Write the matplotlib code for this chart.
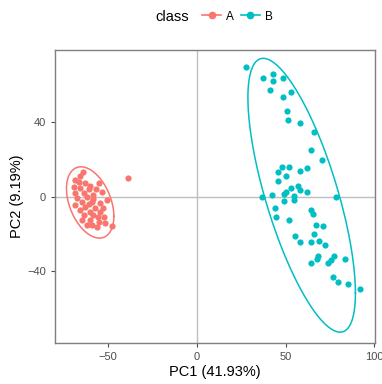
import numpy as np
import matplotlib
matplotlib.use("Agg")
import matplotlib.pyplot as plt
from matplotlib.lines import Line2D

plt.rcParams["font.family"] = ["Liberation Sans", "DejaVu Sans"]

# PCA scores
a_pc1 = [-64.2, -68.9, -66.7, -62.9, -55.4, -69.5, -65.7, -61.1, -53.5, -68.5,
         -63.9, -58.3, -67.6, -62.0, -50.7, -64.8, -59.2, -54.5, -68.5, -62.9,
         -57.3, -65.7, -60.1, -54.5, -63.9, -58.3, -52.6, -64.8, -60.1, -55.4,
         -47.9, -51.7, -62.0, -56.4, -38.6, -66.0, -60.0, -57.0, -61.0, -56.0,
         -59.0, -53.0, -58.5]
a_pc2 = [13.6, 9.1, 8.2, 7.4, 7.4, 5.5, 4.7, 4.1, 2.8, 2.0,
         2.0, 1.1, -0.7, 0.2, -1.6, -2.5, -2.5, -3.4, -4.3, -5.2,
         -6.1, -7.0, -7.9, -7.9, -9.7, -9.7, -10.6, -12.4, -12.4, -13.3,
         -15.6, -14.1, -15.1, -16.0, 10.1, 11.0, 6.0, 4.0, -4.0, -11.0,
         -15.0, -6.0, -1.0]

b_pc1 = [27.5, 37.5, 42.9, 42.9, 48.5, 41.2, 48.5, 53.2, 50.6, 51.3,
         58.0, 65.9, 64.2, 70.4, 47.8, 45.5, 51.9, 57.9, 62.0, 50.0,
         45.9, 56.9, 53.0, 58.3, 62.0, 50.4, 49.3, 42.1, 36.5, 54.7,
         54.9, 49.3, 78.5, 44.0, 64.6, 65.3, 44.4, 51.9, 67.2, 71.3,
         55.6, 65.9, 58.4, 64.2, 68.9, 72.5, 68.5, 67.6, 64.6, 77.4,
         75.8, 74.2, 83.5, 77.0, 79.4, 85.2, 92.1]
b_pc2 = [69.9, 64.1, 66.1, 62.5, 64.0, 57.2, 53.6, 56.3, 46.2, 41.4,
         39.6, 34.8, 25.1, 19.9, 16.0, 13.6, 16.0, 14.0, 15.6, 11.3,
         8.8, 6.1, 4.7, 3.8, 2.8, 2.8, 1.6, 1.2, 0.2, 0.5,
         -1.6, -2.0, 0.2, -5.8, -7.0, -9.1, -10.9, -12.4, -15.2, -15.4,
         -21.0, -19.9, -24.2, -24.4, -23.8, -25.8, -31.7, -33.5, -35.6, -31.6,
         -33.9, -35.3, -33.2, -43.0, -45.5, -46.8, -49.6]

col_a = "#F8766D"
col_b = "#00BFC4"


def t_ellipse(x, y, level=0.95, nu=5, segments=200):
    # robust t covariance (like MASS::cov.trob) + F-based radius, as stat_ellipse
    d = np.column_stack([x, y])
    n, p = d.shape
    loc = d.mean(axis=0)
    cov = np.cov(d.T)
    for _ in range(200):
        diff = d - loc
        q = np.einsum("ij,jk,ik->i", diff, np.linalg.inv(cov), diff)
        w = (nu + p) / (nu + q)
        loc_new = (w[:, None] * d).sum(axis=0) / w.sum()
        diff = d - loc_new
        cov = (w[:, None, None] * np.einsum("ij,ik->ijk", diff, diff)).sum(axis=0) / n
        if np.allclose(loc_new, loc):
            loc = loc_new
            break
        loc = loc_new
    dfd = n - 1
    fq = (dfd / 2.0) * ((1 - level) ** (-2.0 / dfd) - 1)
    radius = np.sqrt(2 * fq)
    chol = np.linalg.cholesky(cov).T
    th = np.linspace(0, 2 * np.pi, segments)
    unit = np.column_stack([np.cos(th), np.sin(th)])
    pts = loc + radius * unit @ chol
    return pts[:, 0], pts[:, 1]


fig = plt.figure(figsize=(3.82, 3.84), dpi=100)
ax = fig.add_axes([0.144, 0.107, 0.838, 0.763])

ax.axhline(0, color="#BEBEBE", lw=1.0, zorder=0)
ax.axvline(0, color="#BEBEBE", lw=1.0, zorder=0)

ax.scatter(a_pc1, a_pc2, s=20, color=col_a, linewidths=0, zorder=3)
ax.scatter(b_pc1, b_pc2, s=20, color=col_b, linewidths=0, zorder=3)

ex, ey = t_ellipse(a_pc1, a_pc2)
ax.plot(ex, ey, color=col_a, lw=1.1, zorder=2)
ex, ey = t_ellipse(b_pc1, b_pc2)
ax.plot(ex, ey, color=col_b, lw=1.1, zorder=2)

ax.set_xlim(-80, 100.5)
ax.set_ylim(-78.5, 79)
ax.set_xticks([-50, 0, 50, 100])
ax.set_yticks([-40, 0, 40])
ax.tick_params(colors="#4D4D4D", labelsize=8, length=3, width=0.8)
for s in ax.spines.values():
    s.set_color("#7F7F7F")
    s.set_linewidth(1.0)
ax.set_xlabel("PC1 (41.93%)", fontsize=10.5, labelpad=2)
ax.set_ylabel("PC2 (9.19%)", fontsize=10.5, labelpad=2)

fig.text(0.408, 0.957, "class", ha="left", va="center", fontsize=10.5)
handles = [Line2D([], [], color=col_a, marker="o", markersize=4.5, lw=1.2),
           Line2D([], [], color=col_b, marker="o", markersize=4.5, lw=1.2)]
fig.legend(handles, ["A", "B"], loc="center left", bbox_to_anchor=(0.53, 0.957),
           ncol=2, frameon=False, fontsize=8.5, handlelength=1.6,
           handletextpad=0.4, columnspacing=0.6, borderpad=0, borderaxespad=0)

fig.savefig("out.png", dpi=100)
